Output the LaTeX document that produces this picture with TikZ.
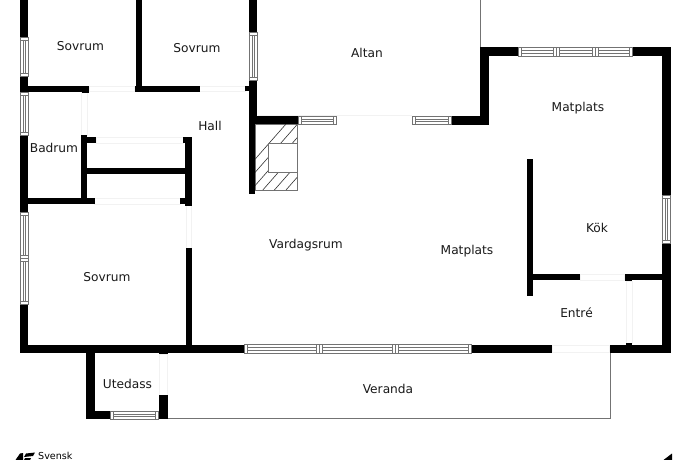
\documentclass[tikz,border=0pt]{standalone}
\usepackage{fontspec}
\setmainfont{DejaVu Sans}
\definecolor{wing}{gray}{0.45}
\definecolor{faint}{gray}{0.95}
\newcommand{\wl}[4]{\fill[black] (#1,#2) rectangle (#3,#4);}
\newcommand{\gap}[4]{\draw[faint,line width=.6pt] (#1,#2) rectangle (#3,#4);}
% horizontal window: x1 y1 x2 y2
\newcommand{\wh}[4]{\draw[winline] (#1,#2) rectangle (#3,#4);
  \draw[winline] ({#1+3},#2) -- ({#1+3},#4) ({#3-3},#2) -- ({#3-3},#4);
  \draw[winline] ({#1+3},{#2+3}) -- ({#3-3},{#2+3}) ({#1+3},{#4-3}) -- ({#3-3},{#4-3});}
\newcommand{\wv}[4]{\draw[winline] (#1,#2) rectangle (#3,#4);
  \draw[winline] (#1,{#2+3}) -- (#3,{#2+3}) (#1,{#4-3}) -- (#3,{#4-3});
  \draw[winline] ({#1+3},{#2+3}) -- ({#1+3},{#4-3}) ({#3-3},{#2+3}) -- ({#3-3},{#4-3});}
\tikzset{winline/.style={draw=wing,line width=.6pt},
  roomlabel/.style={font=\fontsize{12.2}{14}\selectfont,inner sep=0pt,text=black!90}}
\begin{document}
\begin{tikzpicture}[x=1pt,y=-1pt]
\useasboundingbox (0,0) rectangle (690,460);
\clip (0,0) rectangle (690,460);
\fill[white] (0,0) rectangle (690,460);
% faint door gaps
\gap{89}{86}{134}{91}\gap{199}{86}{245}{91}\gap{81}{92}{87}{135}
\gap{96}{137}{183}{143}\gap{94}{198}{180}{204}\gap{186}{205}{191}{248}
\gap{159}{354}{167}{395}\gap{580}{274}{624}{280}\gap{626}{281}{632}{343}
\gap{552}{345}{609}{352}
\draw[faint,line width=.6pt] (258,115.5) -- (412,115.5);
% thin outlines
\draw[wing,line width=.7pt] (480,0) -- (480,47);
\draw[wing,line width=.7pt] (167,418.8) -- (610.5,418.8) -- (610.5,353);
% outer walls
\wl{20}{0}{28}{37}\wl{20}{76}{28}{92}\wl{20}{135}{28}{212}\wl{20}{304}{28}{353}
\wl{20}{344.5}{244}{353}\wl{471}{344.5}{552}{353}\wl{610}{344.5}{670.5}{353}
\wl{662}{47.5}{670.5}{195}\wl{662}{243}{670.5}{353}
\wl{480}{47.5}{518}{56}\wl{632}{47.5}{670.5}{56}
\wl{480}{47.5}{488.5}{124.5}\wl{451}{116}{488.5}{124.5}
\wl{249}{0}{257}{32}\wl{249}{80}{257}{124.5}\wl{249}{124}{254.5}{193.5}\wl{249}{116}{298}{124.5}
% inner walls
\wl{136}{0}{142}{92}\wl{28}{86}{82}{92}\wl{82}{86}{88.5}{92.5}\wl{134.5}{86}{199.5}{92}\wl{245}{86}{249}{91}
\wl{81}{135}{87}{204}\wl{81}{137}{96}{143}\wl{185}{137}{191.5}{205.5}\wl{183}{137}{186}{143}
\wl{87}{168}{186}{174}\wl{28}{198}{94.5}{204}\wl{180}{198}{186}{204}
\wl{186}{248}{192}{345}
\wl{86}{353}{94.5}{419}\wl{86}{411}{110}{419}\wl{159}{395}{167.5}{419}\wl{159}{352}{167.5}{353.8}
\wl{527}{159}{532.7}{296}\wl{532}{274}{579.5}{280}\wl{624.5}{274}{662}{280}\wl{624.5}{274}{632}{281}\wl{625.5}{343}{632}{345}
% fireplace
\draw[wing,line width=.7pt] (255,124.5) rectangle (297,190);
\begin{scope}
\clip (255,124.5) rectangle (297,190);
\foreach \i in {0,...,8}{\draw[black!80,line width=.6pt] ({228+11.6*\i},190) -- ++(58,-66);}
\end{scope}
\draw[wing,line width=.7pt,fill=white] (268,143) rectangle (297,172);
% windows
\wv{20}{37}{28}{76}\wv{20}{92}{28}{135}\wv{20}{212}{28}{258}\wv{20}{258}{28}{304}
\wv{249.5}{32}{257}{80}\wv{662}{195}{670.5}{243}
\wh{298}{116}{336}{124}\wh{412}{116}{451}{124}
\wh{518}{47.5}{556}{56}\wh{556}{47.5}{595}{56}\wh{595}{47.5}{632}{56}
\wh{244}{344.5}{319.5}{353}\wh{319.5}{344.5}{395.5}{353}\wh{395.5}{344.5}{471}{353}
\wh{110}{411}{158}{419}
% labels
\node[roomlabel] (r1) at (80.5,46.5) {Sovrum};
\node[roomlabel] (r2) at (197,48.5) {Sovrum};
\node[roomlabel] (r3) at (367,52.5) {Altan};
\node[roomlabel] (r4) at (210,125.5) {Hall};
\node[roomlabel] (r5) at (54,147.5) {Badrum};
\node[roomlabel] (r6) at (578,108) {Matplats};
\node[roomlabel] (r7) at (597,227.5) {Kök};
\node[roomlabel] (r8) at (306,245) {Vardagsrum};
\node[roomlabel] (r9) at (467,251.5) {Matplats};
\node[roomlabel] (r10) at (107,277) {Sovrum};
\node[roomlabel] (r11) at (576.5,312.5) {Entré};
\node[roomlabel] (r12) at (127.5,383.5) {Utedass};
\node[roomlabel] (r13) at (388,388.5) {Veranda};
% logo
\fill[black] (15.5,460) -- (20,453.5) -- (23,453) -- (23,460) -- cycle;
\fill[black] (24,457) -- (26,453.5) -- (35,452.5) -- (33,456) -- cycle;
\fill[black] (24,460) -- (25,458) -- (31,458) -- (30,460) -- cycle;
\node[anchor=base west,inner sep=0pt,font=\fontsize{9.6}{11}\selectfont] (brand) at (38,459) {Svensk};
\fill[black] (663.5,460) -- (672,453.5) -- (672,460) -- cycle;
\end{tikzpicture}
\end{document}
